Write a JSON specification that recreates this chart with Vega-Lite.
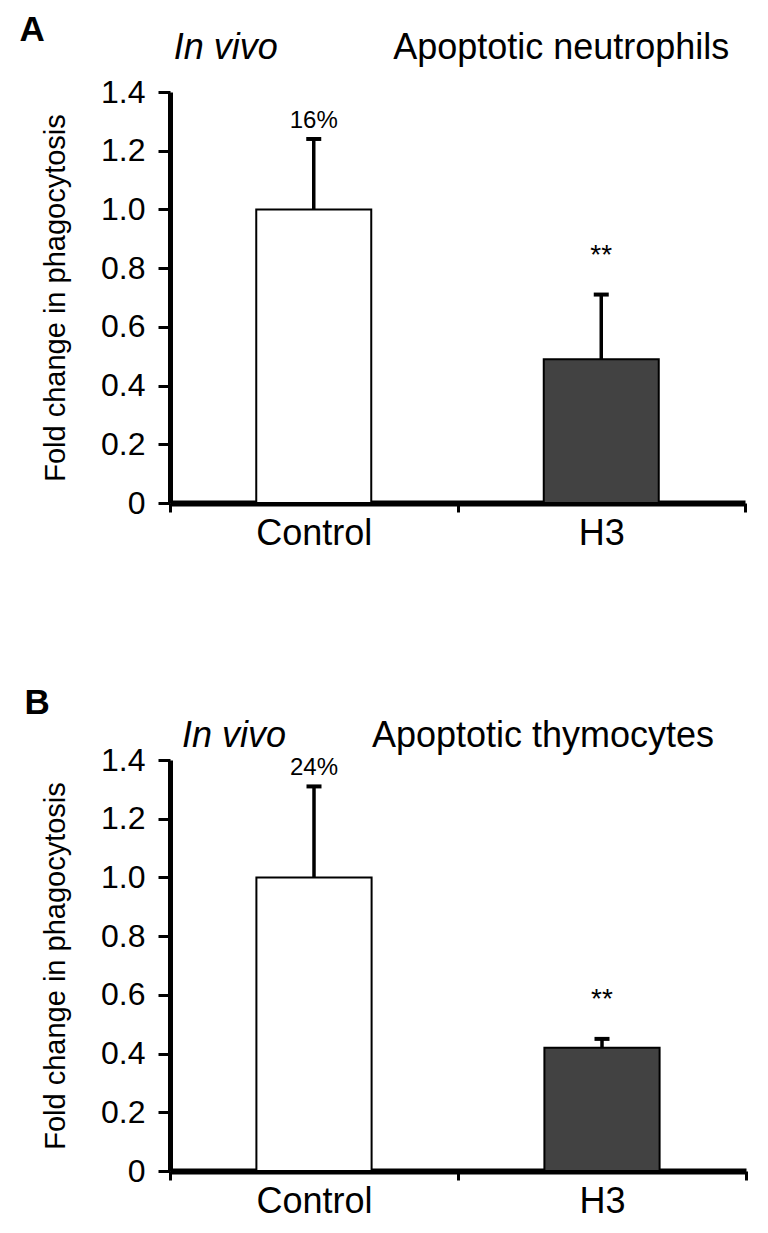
{
  "$schema": "https://vega.github.io/schema/vega-lite/v6.json",
  "background": "white",
  "padding": {"left": 19, "top": 13, "right": 5, "bottom": 5},
  "spacing": 135,
  "config": {
    "font": "Liberation Sans",
    "view": {"stroke": null},
    "axis": {"domainColor": "black", "tickColor": "black", "labelColor": "black", "titleColor": "black", "grid": false},
    "text": {"color": "black", "font": "Liberation Sans"}
  },
  "datasets": {
    "neut": [
      {"group": "Control", "mean": 1.0, "upper": 1.24, "pct": "16%", "sig": ""},
      {"group": "H3", "mean": 0.49, "upper": 0.71, "pct": "", "sig": "**"}
    ],
    "thym": [
      {"group": "Control", "mean": 1.0, "upper": 1.31, "pct": "24%", "sig": ""},
      {"group": "H3", "mean": 0.42, "upper": 0.45, "pct": "", "sig": "**"}
    ]
  },
  "vconcat": [
    {
      "title": {"text": "A", "anchor": "start", "frame": "bounds", "fontSize": 35, "fontWeight": "bold", "color": "black", "offset": 0, "dx": -22, "dy": 18},
      "width": 575,
      "height": 411,
      "data": {"name": "neut"},
      "encoding": {
        "x": {"field": "group", "type": "nominal", "sort": ["Control", "H3"], "scale": {"paddingInner": 0, "paddingOuter": 0},
          "axis": {"title": null, "labelAngle": 0, "labelFontSize": 36, "labelPadding": 4, "domainWidth": 6, "tickWidth": 3, "tickSize": 9, "tickBand": "extent"}}
      },
      "layer": [
        {"mark": {"type": "bar", "stroke": "black", "strokeWidth": 2, "width": {"band": 0.4}},
          "encoding": {
            "y": {"field": "mean", "type": "quantitative", "scale": {"domain": [0, 1.4], "nice": false},
              "axis": {"title": "Fold change in phagocytosis", "titleFontSize": 29, "titleFontWeight": "normal", "titlePadding": 30,
                "values": [0, 0.2, 0.4, 0.6, 0.8, 1.0, 1.2, 1.4], "labelExpr": "datum.value == 0 ? '0' : format(datum.value, '.1f')",
                "labelFontSize": 32, "labelPadding": 13, "labelFlush": false, "tickSize": 12, "tickWidth": 3, "domainWidth": 5}},
            "fill": {"field": "group", "type": "nominal", "scale": {"domain": ["Control", "H3"], "range": ["#ffffff", "#424242"]}, "legend": null}
          }},
        {"mark": {"type": "rule", "strokeWidth": 3.5, "color": "black"},
          "encoding": {"y": {"field": "mean", "type": "quantitative"}, "y2": {"field": "upper"}}},
        {"mark": {"type": "tick", "color": "black", "thickness": 4, "size": 15, "opacity": 1},
          "encoding": {"y": {"field": "upper", "type": "quantitative"}}},
        {"mark": {"type": "text", "dy": -18, "fontSize": 24},
          "encoding": {"y": {"field": "upper", "type": "quantitative"}, "text": {"field": "pct"}}},
        {"mark": {"type": "text", "dy": -39, "fontSize": 28},
          "encoding": {"y": {"field": "upper", "type": "quantitative"}, "text": {"field": "sig"}}},
        {"data": {"values": [{"label": "In vivo"}]},
          "mark": {"type": "text", "fontSize": 36, "fontStyle": "italic", "align": "right", "baseline": "alphabetic", "dx": -36},
          "encoding": {"x": {"datum": "Control", "type": "nominal"}, "y": {"datum": 1.512, "type": "quantitative"}, "text": {"field": "label"}}},
        {"data": {"values": [{"label": "Apoptotic neutrophils"}]},
          "mark": {"type": "text", "fontSize": 36, "align": "center", "baseline": "alphabetic", "dx": -40},
          "encoding": {"x": {"datum": "H3", "type": "nominal"}, "y": {"datum": 1.512, "type": "quantitative"}, "text": {"field": "label"}}}
      ]
    },
    {
      "title": {"text": "B", "anchor": "start", "frame": "bounds", "fontSize": 35, "fontWeight": "bold", "color": "black", "offset": 0, "dx": -17, "dy": 3},
      "width": 576,
      "height": 411,
      "data": {"name": "thym"},
      "encoding": {
        "x": {"field": "group", "type": "nominal", "sort": ["Control", "H3"], "scale": {"paddingInner": 0, "paddingOuter": 0},
          "axis": {"title": null, "labelAngle": 0, "labelFontSize": 36, "labelPadding": 4, "domainWidth": 6, "tickWidth": 3, "tickSize": 9, "tickBand": "extent"}}
      },
      "layer": [
        {"mark": {"type": "bar", "stroke": "black", "strokeWidth": 2, "width": {"band": 0.4}},
          "encoding": {
            "y": {"field": "mean", "type": "quantitative", "scale": {"domain": [0, 1.4], "nice": false},
              "axis": {"title": "Fold change in phagocytosis", "titleFontSize": 29, "titleFontWeight": "normal", "titlePadding": 30,
                "values": [0, 0.2, 0.4, 0.6, 0.8, 1.0, 1.2, 1.4], "labelExpr": "datum.value == 0 ? '0' : format(datum.value, '.1f')",
                "labelFontSize": 32, "labelPadding": 13, "labelFlush": false, "tickSize": 12, "tickWidth": 3, "domainWidth": 5}},
            "fill": {"field": "group", "type": "nominal", "scale": {"domain": ["Control", "H3"], "range": ["#ffffff", "#424242"]}, "legend": null}
          }},
        {"mark": {"type": "rule", "strokeWidth": 3.5, "color": "black"},
          "encoding": {"y": {"field": "mean", "type": "quantitative"}, "y2": {"field": "upper"}}},
        {"mark": {"type": "tick", "color": "black", "thickness": 4, "size": 15, "opacity": 1},
          "encoding": {"y": {"field": "upper", "type": "quantitative"}}},
        {"mark": {"type": "text", "dy": -18, "fontSize": 24},
          "encoding": {"y": {"field": "upper", "type": "quantitative"}, "text": {"field": "pct"}}},
        {"mark": {"type": "text", "dy": -39, "fontSize": 28},
          "encoding": {"y": {"field": "upper", "type": "quantitative"}, "text": {"field": "sig"}}},
        {"data": {"values": [{"label": "In vivo"}]},
          "mark": {"type": "text", "fontSize": 36, "fontStyle": "italic", "align": "right", "baseline": "alphabetic", "dx": -28},
          "encoding": {"x": {"datum": "Control", "type": "nominal"}, "y": {"datum": 1.444, "type": "quantitative"}, "text": {"field": "label"}}},
        {"data": {"values": [{"label": "Apoptotic thymocytes"}]},
          "mark": {"type": "text", "fontSize": 36, "align": "center", "baseline": "alphabetic", "dx": -59},
          "encoding": {"x": {"datum": "H3", "type": "nominal"}, "y": {"datum": 1.444, "type": "quantitative"}, "text": {"field": "label"}}}
      ]
    }
  ]
}
